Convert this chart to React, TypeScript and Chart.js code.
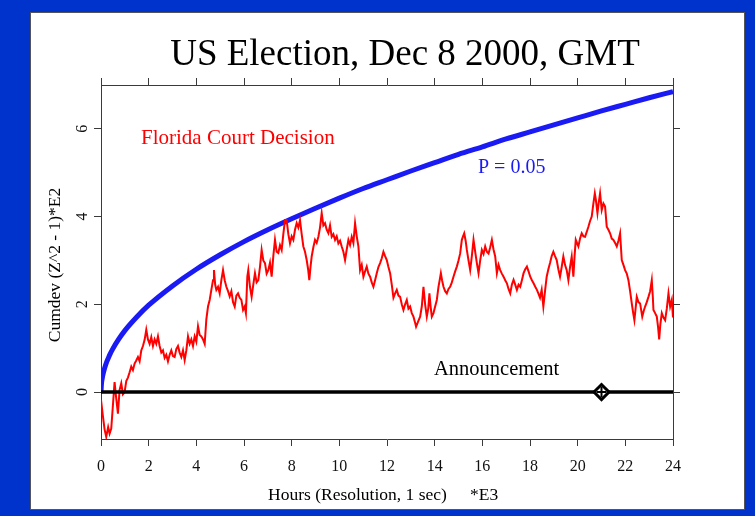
import React, { useEffect, useRef } from 'react';
import { Chart, registerables } from 'chart.js';

Chart.register(...registerables);

const chartTitle = 'US Election, Dec 8 2000, GMT';
const xAxisTitle = 'Hours (Resolution, 1 sec)';
const xAxisUnit = '*E3';
const yAxisTitle = 'Cumdev (Z^2 - 1)*E2';
const redLabel = 'Florida Court Decision';
const blueLabel = 'P = 0.05';
const markerLabel = 'Announcement';

const xMin = 0;
const xMax = 24;
const yMin = -1.07;
const yMax = 7;

// P = 0.05 envelope
const blueHours = [0, 0.02, 0.05, 0.1, 0.2, 0.35, 0.5, 0.75, 1, 1.5, 2, 3, 4, 5, 6, 7, 8, 9, 10, 11, 12, 13, 14, 15, 16, 17, 18, 19, 20, 21, 22, 23, 24];
const blueValues = [0, 0.2, 0.31, 0.44, 0.63, 0.83, 0.99, 1.21, 1.4, 1.71, 1.98, 2.42, 2.8, 3.13, 3.43, 3.7, 3.95, 4.19, 4.42, 4.64, 4.84, 5.04, 5.23, 5.42, 5.59, 5.77, 5.93, 6.09, 6.25, 6.41, 6.56, 6.71, 6.85];

// Cumulative deviation trace
const redHours = [
  0.00, 0.08, 0.15, 0.22, 0.30, 0.36, 0.43, 0.50, 0.57, 0.63, 0.71, 0.78, 0.85, 0.92, 0.99,
  1.06, 1.13, 1.20, 1.27, 1.34, 1.41, 1.48, 1.55, 1.62, 1.69, 1.76, 1.83, 1.90, 1.97,
  2.04, 2.11, 2.18, 2.25, 2.32, 2.39, 2.46, 2.53, 2.60, 2.67, 2.74, 2.81, 2.88, 2.95,
  3.02, 3.09, 3.16, 3.23, 3.30, 3.37, 3.44, 3.51, 3.58, 3.65, 3.72, 3.79, 3.86, 3.93,
  4.00, 4.07, 4.14, 4.21, 4.28, 4.35, 4.42, 4.49, 4.56, 4.63, 4.70, 4.74, 4.79, 4.84, 4.91, 4.98,
  5.05, 5.12, 5.19, 5.26, 5.33, 5.40, 5.47, 5.54, 5.61, 5.68, 5.75, 5.82, 5.89, 5.96,
  6.03, 6.08, 6.14, 6.18, 6.25, 6.32, 6.39, 6.46, 6.53, 6.60, 6.67, 6.74, 6.81, 6.88, 6.95,
  7.02, 7.09, 7.16, 7.23, 7.30, 7.37, 7.44, 7.51, 7.58, 7.65, 7.72, 7.79, 7.86, 7.93,
  8.00, 8.07, 8.14, 8.21, 8.28, 8.35, 8.42, 8.49, 8.56, 8.63, 8.69, 8.74, 8.79, 8.84, 8.91, 8.98,
  9.05, 9.12, 9.19, 9.26, 9.33, 9.40, 9.47, 9.54, 9.61, 9.68, 9.75, 9.82, 9.89, 9.96,
  10.03, 10.10, 10.17, 10.24, 10.31, 10.38, 10.45, 10.52, 10.59, 10.66, 10.73, 10.80, 10.87, 10.94,
  11.01, 11.08, 11.15, 11.22, 11.29, 11.36, 11.43, 11.50, 11.57, 11.64, 11.71, 11.78, 11.85, 11.92, 11.99,
  12.06, 12.13, 12.20, 12.27, 12.34, 12.41, 12.48, 12.55, 12.62, 12.69, 12.76, 12.83, 12.90, 12.97,
  13.04, 13.11, 13.17, 13.22, 13.30, 13.39, 13.46, 13.53, 13.60, 13.67, 13.73, 13.78, 13.83, 13.88, 13.95,
  14.02, 14.09, 14.16, 14.21, 14.26, 14.31, 14.37, 14.44, 14.51, 14.58, 14.65, 14.72, 14.79, 14.86, 14.93,
  15.00, 15.07, 15.14, 15.19, 15.24, 15.30, 15.35, 15.42, 15.49, 15.56, 15.63, 15.70, 15.77, 15.84, 15.91, 15.98,
  16.05, 16.12, 16.19, 16.26, 16.33, 16.40, 16.47, 16.54, 16.61, 16.68, 16.75, 16.82, 16.89, 16.96,
  17.03, 17.10, 17.17, 17.24, 17.31, 17.38, 17.45, 17.52, 17.59, 17.66, 17.73, 17.80, 17.87, 17.94,
  18.01, 18.08, 18.15, 18.22, 18.29, 18.35, 18.42, 18.49, 18.56, 18.63, 18.70, 18.77, 18.84, 18.91, 18.98,
  19.05, 19.12, 19.19, 19.26, 19.33, 19.40, 19.47, 19.54, 19.61, 19.68, 19.75, 19.82, 19.87, 19.92, 19.97,
  20.03, 20.10, 20.17, 20.24, 20.31, 20.38, 20.45, 20.52, 20.59, 20.66, 20.72, 20.76, 20.83, 20.88, 20.94,
  21.01, 21.08, 21.15, 21.22, 21.29, 21.36, 21.43, 21.50, 21.57, 21.64, 21.71, 21.78, 21.85, 21.92, 21.99,
  22.06, 22.13, 22.20, 22.27, 22.33, 22.38, 22.43, 22.48, 22.55, 22.62, 22.67, 22.71, 22.77, 22.83, 22.90, 22.97,
  23.04, 23.11, 23.15, 23.18, 23.25, 23.32, 23.37, 23.42, 23.47, 23.53, 23.60, 23.67, 23.74, 23.81, 23.88, 23.95, 24.00,
];
const redValues = [
  -0.18, -0.55, -0.85, -1.02, -0.80, -0.95, -0.83, -0.30, 0.23, -0.10, -0.49, 0.05, 0.20, -0.05, 0.00,
  0.25, 0.33, 0.45, 0.58, 0.50, 0.65, 0.72, 0.80, 0.70, 0.95, 1.05, 1.19, 1.42, 1.20,
  1.10, 1.25, 1.05, 1.20, 1.10, 1.27, 1.05, 0.90, 0.95, 0.78, 0.85, 0.70, 0.85, 0.95,
  0.82, 0.80, 0.98, 1.05, 0.90, 0.80, 0.95, 0.73, 0.95, 1.27, 1.10, 1.20, 1.05, 1.27,
  1.15, 1.50, 1.30, 1.27, 1.20, 1.10, 1.66, 1.95, 2.10, 2.33, 2.55, 2.78, 2.45, 2.33, 2.40, 2.25,
  2.55, 2.78, 2.55, 2.40, 2.30, 2.18, 2.30, 2.05, 1.95, 2.20, 2.25, 2.15, 2.10, 1.87,
  1.95, 1.80, 2.63, 2.78, 2.40, 2.17, 2.45, 2.71, 2.50, 2.55, 2.85, 3.24, 3.00, 2.94, 2.70,
  2.78, 2.95, 2.63, 3.10, 3.47, 3.20, 3.17, 3.35, 3.24, 3.60, 3.92, 3.92, 3.60, 3.39,
  3.55, 3.47, 3.70, 3.85, 3.75, 3.92, 3.60, 3.32, 3.20, 3.01, 2.80, 2.55, 2.85, 3.09, 3.30, 3.47,
  3.40, 3.54, 3.75, 4.08, 3.80, 3.85, 3.70, 3.62, 3.80, 3.54, 3.60, 3.47, 3.55, 3.39,
  3.45, 3.32, 3.20, 3.01, 3.25, 3.47, 3.35, 3.54, 3.40, 3.85, 3.55, 3.32, 2.78, 2.90,
  2.63, 2.75, 2.86, 2.70, 2.63, 2.50, 2.40, 2.55, 2.71, 2.85, 2.94, 3.05, 3.20, 3.10, 3.01,
  2.85, 2.71, 2.45, 2.15, 2.25, 2.33, 2.20, 2.17, 2.00, 1.87, 2.00, 2.10, 1.90, 1.95,
  1.80, 1.72, 1.60, 1.49, 1.60, 1.72, 1.95, 2.40, 2.00, 1.72, 1.90, 2.25, 1.95, 1.72, 1.80,
  1.95, 2.10, 2.40, 2.55, 2.71, 2.55, 2.40, 2.30, 2.25, 2.35, 2.40, 2.50, 2.63, 2.75, 2.86,
  3.00, 3.16, 3.47, 3.55, 3.62, 3.45, 3.24, 3.00, 2.78, 3.10, 3.47, 3.20, 2.94, 2.71, 3.00, 3.24,
  3.15, 3.32, 3.20, 3.16, 3.30, 3.47, 3.25, 3.09, 2.71, 2.90, 2.78, 2.70, 2.63, 2.55,
  2.48, 2.35, 2.25, 2.45, 2.56, 2.45, 2.33, 2.45, 2.40, 2.55, 2.71, 2.80, 2.86, 2.75,
  2.63, 2.55, 2.48, 2.40, 2.33, 2.25, 2.15, 2.33, 1.95, 2.30, 2.63, 2.80, 2.94, 3.10, 3.20,
  3.10, 3.01, 2.80, 2.63, 2.85, 3.09, 2.90, 2.78, 2.55, 2.85, 3.09, 2.63, 3.10, 3.47, 3.40,
  3.32, 3.50, 3.62, 3.55, 3.54, 3.65, 3.77, 3.90, 4.00, 4.30, 4.53, 4.40, 4.08, 4.30, 4.53,
  4.15, 4.30, 4.23, 3.77, 3.70, 3.62, 3.50, 3.47, 3.40, 3.32, 3.45, 3.62, 3.01, 2.90, 2.78,
  2.70, 2.55, 2.30, 2.02, 1.80, 1.64, 1.90, 2.17, 2.05, 2.02, 1.85, 1.72, 1.85, 1.95, 2.05, 2.17,
  2.30, 2.55, 2.20, 1.87, 1.80, 1.72, 1.50, 1.20, 1.55, 1.80, 1.70, 1.64, 1.90, 2.25, 1.95, 2.10, 1.70,
];

const zeroHours = [0, 24];
const zeroValues = [0, 0];
const announceHour = 21;
const announceValue = 0;

const FONT = '"Liberation Serif", "Times New Roman", serif';
const AXIS = '#3a3a3a';
const RED = '#ff0000';
const BLUE = '#1a1af5';

function toPoints(xs: number[], ys: number[]) {
  return xs.map((x, i) => ({ x, y: ys[i] }));
}

export default function App() {
  const ref = useRef<HTMLCanvasElement | null>(null);

  useEffect(() => {
    if (!ref.current) return;

    const textPlugin = {
      id: 'textPlugin',
      afterDraw(chart: any) {
        const { ctx, chartArea, scales } = chart;
        const xs = scales.x;
        const ys = scales.y;
        ctx.save();
        ctx.fillStyle = '#000';

        // title
        ctx.font = `37px ${FONT}`;
        ctx.textAlign = 'center';
        ctx.textBaseline = 'alphabetic';
        ctx.fillText(chartTitle, 374, 52);

        // x tick labels
        ctx.font = `16px ${FONT}`;
        ctx.textBaseline = 'middle';
        ctx.fillStyle = '#111';
        xs.ticks.forEach((t: any) => {
          ctx.fillText(String(t.value), xs.getPixelForValue(t.value), chartArea.bottom + 28);
        });

        // y tick labels (rotated)
        ys.ticks.forEach((t: any) => {
          ctx.save();
          ctx.translate(chartArea.left - 18, ys.getPixelForValue(t.value));
          ctx.rotate(-Math.PI / 2);
          ctx.fillText(String(t.value), 0, 0);
          ctx.restore();
        });

        // x title
        ctx.font = `17.5px ${FONT}`;
        ctx.textAlign = 'left';
        ctx.textBaseline = 'alphabetic';
        ctx.fillStyle = '#000';
        ctx.fillText(xAxisTitle, 237, 487);
        ctx.fillText(xAxisUnit, 439, 487);

        // y title
        ctx.save();
        ctx.translate(29, (chartArea.top + chartArea.bottom) / 2 + 3);
        ctx.rotate(-Math.PI / 2);
        ctx.textAlign = 'center';
        ctx.font = `17.5px ${FONT}`;
        ctx.fillText(yAxisTitle, 0, 0);
        ctx.restore();

        // annotations
        ctx.font = `21px ${FONT}`;
        ctx.fillStyle = RED;
        ctx.fillText(redLabel, 110, 131);
        ctx.font = `20px ${FONT}`;
        ctx.fillStyle = BLUE;
        ctx.fillText(blueLabel, 447, 160);
        ctx.font = `20.5px ${FONT}`;
        ctx.fillStyle = '#000';
        ctx.fillText(markerLabel, 403, 362);

        ctx.restore();
      },
    };

    const axisCommon = {
      type: 'linear' as const,
      grid: { drawOnChartArea: false, drawTicks: true, tickLength: 7, tickColor: AXIS, tickWidth: 1 },
      border: { display: true, color: AXIS, width: 1 },
      ticks: { display: false, stepSize: 2, includeBounds: false },
    };

    const chart = new Chart(ref.current, {
      type: 'line',
      data: {
        datasets: [
          {
            label: 'marker-cross',
            data: [{ x: announceHour, y: announceValue }],
            pointStyle: 'cross',
            pointRadius: 5,
            pointBorderWidth: 2,
            pointBorderColor: '#000',
            showLine: false,
            order: 0,
          },
          {
            label: 'marker',
            data: [{ x: announceHour, y: announceValue }],
            pointStyle: 'rectRot',
            pointRadius: 7.5,
            pointBorderWidth: 3,
            pointBorderColor: '#000',
            pointBackgroundColor: '#fff',
            showLine: false,
            order: 1,
          },
          {
            label: 'zero',
            data: toPoints(zeroHours, zeroValues),
            borderColor: '#000',
            borderWidth: 3.5,
            pointRadius: 0,
            order: 2,
          },
          {
            label: 'Cumdev',
            data: toPoints(redHours, redValues),
            borderColor: RED,
            borderWidth: 2,
            pointRadius: 0,
            tension: 0,
            order: 3,
          },
          {
            label: 'P = 0.05',
            data: toPoints(blueHours, blueValues),
            borderColor: BLUE,
            borderWidth: 5,
            pointRadius: 0,
            cubicInterpolationMode: 'monotone',
            order: 4,
          },
        ],
      },
      options: {
        responsive: false,
        animation: false,
        devicePixelRatio: 1,
        layout: { padding: 0 },
        plugins: { legend: { display: false }, tooltip: { enabled: false }, title: { display: false } },
        scales: {
          x: { ...axisCommon, position: 'bottom', min: xMin, max: xMax, afterFit: (s: any) => { s.height = 70; } },
          x2: { ...axisCommon, position: 'top', min: xMin, max: xMax, afterFit: (s: any) => { s.height = 72; } },
          y: { ...axisCommon, position: 'left', min: yMin, max: yMax, afterFit: (s: any) => { s.width = 70; } },
          y2: { ...axisCommon, position: 'right', min: yMin, max: yMax, afterFit: (s: any) => { s.width = 71; } },
        },
      } as any,
      plugins: [textPlugin],
    });

    return () => chart.destroy();
  }, []);

  return (
    <div style={{ position: 'fixed', left: 0, top: 0, width: 755, height: 516, background: '#0033cc', overflow: 'hidden' }}>
      <div
        style={{
          position: 'absolute',
          left: 30,
          top: 12,
          width: 715,
          height: 498,
          background: '#fff',
          border: '1px solid #555',
          boxSizing: 'border-box',
        }}
      />
      <canvas ref={ref} width={713} height={496} style={{ position: 'absolute', left: 31, top: 13, width: 713, height: 496 }} />
    </div>
  );
}
